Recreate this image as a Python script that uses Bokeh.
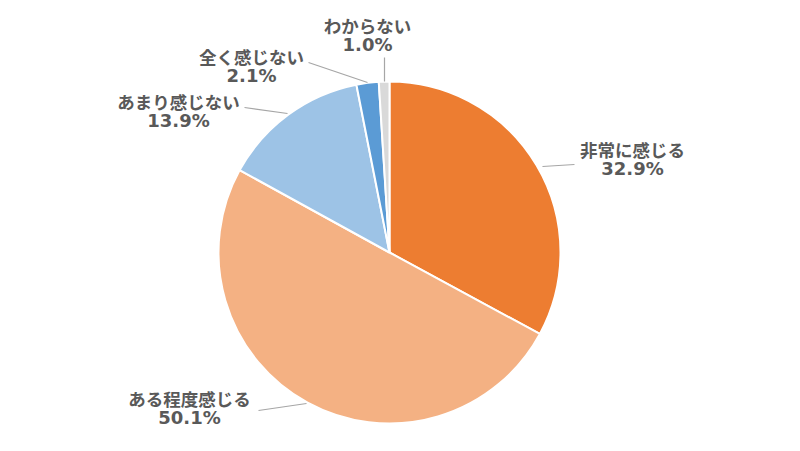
import math
from bokeh.plotting import figure
from bokeh.models import Range1d, ColumnDataSource
from bokeh.core.properties import value
from bokeh.embed import file_html
from bokeh.resources import INLINE

categories = ["非常に感じる", "ある程度感じる", "あまり感じない", "全く感じない", "わからない"]
values = [32.9, 50.1, 13.9, 2.1, 1.0]
colors = ["#ED7D31", "#F4B183", "#9DC3E6", "#5B9BD5", "#D9D9D9"]

W, H = 784, 435
p = figure(width=W, height=H, output_backend="svg", toolbar_location=None,
           x_range=Range1d(0, W), y_range=Range1d(0, H), min_border=0)
p.axis.visible = False
p.grid.visible = False
p.outline_line_color = None
p.background_fill_color = "white"

def py(y):  # screenshot y -> data y
    return H - y
def px(x):
    return x

cx, cy, r = px(389), py(252), 171
total = sum(values)
starts, ends = [], []
a = math.pi / 2
for v in values:
    starts.append(a)
    a -= v / total * 2 * math.pi
    ends.append(a)

src = ColumnDataSource(dict(start=starts, end=ends, color=colors))
p.wedge(x=cx, y=cy, radius=r, start_angle="start", end_angle="end", direction="clock",
        fill_color="color", line_color="white", line_width=2, source=src)

# label anchors (screenshot coords): text center x, first line y, leader line
label_pos = [
    (632, 150, [(542, 166), (574, 164)]),
    (189, 399, [(258, 410), (306, 403)]),
    (178, 102, [(244, 107), (287, 113)]),
    (251, 57, [(308, 62), (367, 82)]),
    (367, 26, [(384, 57), (384, 81)]),
]
for cat, v, (tx, ty, line) in zip(categories, values, label_pos):
    p.line([px(q[0]) for q in line], [py(q[1]) for q in line], line_color="#A6A6A6", line_width=1.2)
    p.text(x=[px(tx)], y=[py(ty - 1)], text=[cat], text_align="center", text_baseline="middle",
           text_font=value("Noto Sans CJK JP"), text_font_style="bold",
           text_font_size="17.5px", text_color="#595959")
    p.text(x=[px(tx)], y=[py(ty + 18)], text=[f"{v:.1f}%"], text_align="center", text_baseline="middle",
           text_font=value("DejaVu Sans"), text_font_style="bold",
           text_font_size="18px", text_color="#595959")

open("out.html", "w").write(file_html(p, INLINE))
